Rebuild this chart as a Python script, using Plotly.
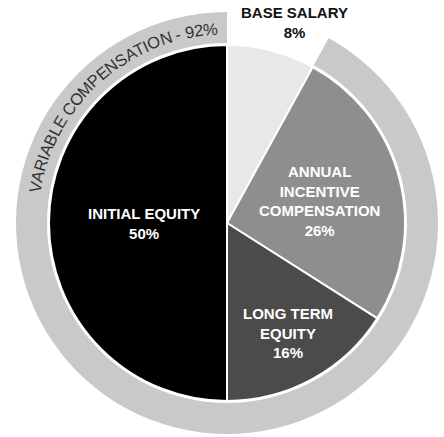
import math
import plotly.graph_objects as go

W, H = 444, 437

# ---- data ----
labels = ["BASE SALARY", "ANNUAL INCENTIVE COMPENSATION", "LONG TERM EQUITY", "INITIAL EQUITY"]
values = [8, 26, 16, 50]
colors = ["#e8e8e8", "#8e8e8e", "#4b4b4b", "#000000"]

ring_labels = ["BASE SALARY", "VARIABLE COMPENSATION"]
ring_values = [8, 92]
ring_colors = ["rgba(255,255,255,0)", "#c9c9c9"]
ring_title = "VARIABLE COMPENSATION - 92%"

label_texts = [
    "<b>BASE SALARY<br>8%</b>",
    "<b>ANNUAL<br>INCENTIVE<br>COMPENSATION<br>26%</b>",
    "<b>LONG TERM<br>EQUITY<br>16%</b>",
    "<b>INITIAL EQUITY<br>50%</b>",
]
label_colors = ["#111111", "#ffffff", "#ffffff", "#ffffff"]
label_pos = [(294, 23), (319, 201), (288, 333), (144, 223)]  # pixel centres

# ---- geometry (pixels) ----
cx, cy = 227, 223
R_outer = 211
R_inner = 178
hole = 180 / R_outer


def px(x):
    return x / W


def py(y):
    return 1 - y / H


def dom(cx, cy, r):
    return dict(x=[px(cx - r), px(cx + r)], y=[py(cy + r), py(cy - r)])


fig = go.Figure()
fig.add_trace(go.Pie(
    labels=ring_labels, values=ring_values, sort=False, direction="clockwise", rotation=0,
    hole=hole, marker=dict(colors=ring_colors, line=dict(color="white", width=0)),
    textinfo="none", hoverinfo="label+percent", domain=dom(cx, cy, R_outer),
))
fig.add_trace(go.Pie(
    labels=labels, values=values, sort=False, direction="clockwise", rotation=0,
    marker=dict(colors=colors, line=dict(color="white", width=2)),
    textinfo="none", hoverinfo="label+percent", domain=dom(cx, cy, R_inner),
))

annotations = []
for t, c, (lx, ly) in zip(label_texts, label_colors, label_pos):
    annotations.append(dict(
        text=t, x=px(lx), y=py(ly), xref="paper", yref="paper", showarrow=False,
        xanchor="center", yanchor="middle", align="center",
        font=dict(family="Liberation Sans, Arial", size=15, color=c),
    ))

# curved ring text: character by character along the ring
cw = {"V": .667, "A": .667, "R": .722, "I": .278, "B": .667, "L": .556, "E": .667,
      " ": .278, "C": .722, "O": .778, "M": .833, "P": .667, "N": .722, "S": .667,
      "T": .611, "-": .333, "9": .556, "2": .556, "%": .889}
fs = 16.5
r_text = 195
start_deg = 279
s = 0.0
for ch in ring_title:
    w = cw.get(ch, .6) * fs
    mid = s + w / 2
    s += w
    ang = start_deg + math.degrees(mid / r_text)
    a = math.radians(ang)
    x = cx + r_text * math.sin(a)
    y = cy - r_text * math.cos(a)
    ta = ang - 360 if ang > 180 else ang
    annotations.append(dict(
        text=ch, x=px(x), y=py(y), xref="paper", yref="paper", showarrow=False,
        xanchor="center", yanchor="middle", textangle=ta,
        font=dict(family="Liberation Sans, Arial", size=fs, color="#333333"),
    ))

fig.update_layout(
    width=W, height=H, margin=dict(l=0, r=0, t=0, b=0),
    paper_bgcolor="white", plot_bgcolor="white", showlegend=False,
    annotations=annotations,
)
fig.write_html("out.html", config={"displayModeBar": False},
               post_script="document.body.style.margin='0';")
